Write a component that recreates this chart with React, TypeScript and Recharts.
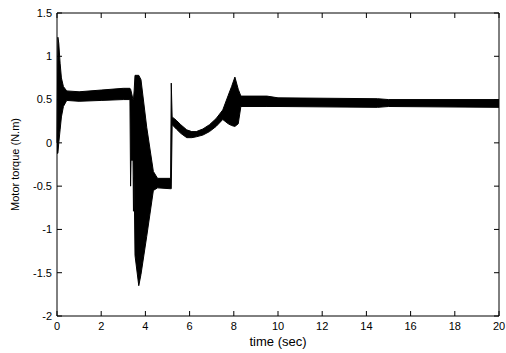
import React from "react";
import { ComposedChart, Area, XAxis, YAxis, Label, ReferenceLine } from "recharts";

// time (sec) and the envelope of the oscillating torque (N.m)
const TIME = [
  0, 0.04, 0.08, 0.14, 0.2, 0.29, 0.44, 1, 2, 3, 3.3, 3.33, 3.35, 3.44, 3.46,
  3.49, 3.53, 3.7, 3.8, 4.06, 4.36, 4.55, 5.14, 5.17, 5.21, 5.4, 5.6, 5.87, 6.1,
  6.3, 6.6, 6.9, 7.2, 7.5, 7.75, 7.9, 8.05, 8.2, 8.32, 9.5, 10, 14.5, 15, 20,
];
const LOWER = [
  -0.12, -0.12, 0.0, 0.15, 0.3, 0.42, 0.49, 0.48, 0.49, 0.5, 0.5, -0.5, -0.2,
  -0.2, -0.79, -0.4, -1.3, -1.65, -1.52, -1.08, -0.55, -0.52, -0.53, -0.53,
  0.21, 0.16, 0.11, 0.06, 0.06, 0.07, 0.09, 0.13, 0.19, 0.27, 0.22, 0.2, 0.19,
  0.22, 0.42, 0.42, 0.42, 0.41, 0.42, 0.41,
];
const UPPER = [
  0.0, 1.22, 1.15, 0.92, 0.75, 0.65, 0.6, 0.59, 0.61, 0.63, 0.63, 0.62, 0.6,
  0.5, 0.5, 0.6, 0.78, 0.78, 0.73, 0.18, -0.33, -0.41, -0.41, 0.69, 0.3, 0.26,
  0.21, 0.15, 0.13, 0.13, 0.16, 0.21, 0.28, 0.38, 0.55, 0.65, 0.76, 0.62, 0.54,
  0.54, 0.52, 0.51, 0.5, 0.5,
];

const X_TICKS = [0, 2, 4, 6, 8, 10, 12, 14, 16, 18, 20];
const Y_TICKS = [-2, -1.5, -1, -0.5, 0, 0.5, 1, 1.5];

const data = TIME.map((t, i) => ({ t, range: [LOWER[i], UPPER[i]] }));

const W = 506;
const H = 353;
const TOP = 13;
const RIGHT = 7;
const TICK = 5;

const FONT = { fontSize: 11, fontFamily: "Liberation Sans, Arial, sans-serif", fill: "#000" };

// MATLAB style: ticks point inward, on all four sides
function XTick(props: any) {
  const { x, y, payload } = props;
  const axisY = y - 6;
  return (
    <g>
      <line x1={x} x2={x} y1={axisY} y2={axisY - TICK} stroke="#000" />
      <line x1={x} x2={x} y1={TOP} y2={TOP + TICK} stroke="#000" />
      <text x={x} y={y} dy="0.71em" textAnchor="middle" style={FONT}>
        {payload.value}
      </text>
    </g>
  );
}

function YTick(props: any) {
  const { x, y, payload } = props;
  const axisX = x + 5;
  const right = W - RIGHT;
  return (
    <g>
      <line x1={axisX} x2={axisX + TICK} y1={y} y2={y} stroke="#000" />
      <line x1={right} x2={right - TICK} y1={y} y2={y} stroke="#000" />
      <text x={x} y={y} dy="0.355em" textAnchor="end" style={FONT}>
        {payload.value}
      </text>
    </g>
  );
}

export default function App() {
  return (
    <div style={{ position: "absolute", left: 0, top: 0, background: "#fff" }}>
      <ComposedChart
        width={W}
        height={H}
        data={data}
        margin={{ top: TOP, right: RIGHT, bottom: 0, left: 0 }}
      >
        <XAxis
          dataKey="t"
          type="number"
          domain={[0, 20]}
          ticks={X_TICKS}
          interval={0}
          height={37}
          axisLine={{ stroke: "#000" }}
          tickLine={false}
          tickSize={0}
          tickMargin={6}
          tick={<XTick />}
        >
          <Label value="time (sec)" position="insideBottom" offset={7} style={{ ...FONT, fontSize: 13 }} />
        </XAxis>
        <YAxis
          type="number"
          domain={[-2, 1.5]}
          ticks={Y_TICKS}
          interval={0}
          width={57}
          axisLine={{ stroke: "#000" }}
          tickLine={false}
          tickSize={0}
          tickMargin={5}
          tick={<YTick />}
        >
          <Label value="Motor torque (N.m)" angle={-90} position="center" dx={-13} style={{ ...FONT, textAnchor: "middle" }} />
        </YAxis>
        <ReferenceLine y={1.5} stroke="#000" strokeWidth={1} />
        <ReferenceLine x={20} stroke="#000" strokeWidth={1} />
        <Area
          type="linear"
          dataKey="range"
          stroke="#000"
          strokeWidth={1}
          fill="#000"
          fillOpacity={1}
          dot={false}
          activeDot={false}
          isAnimationActive={false}
        />
      </ComposedChart>
    </div>
  );
}
